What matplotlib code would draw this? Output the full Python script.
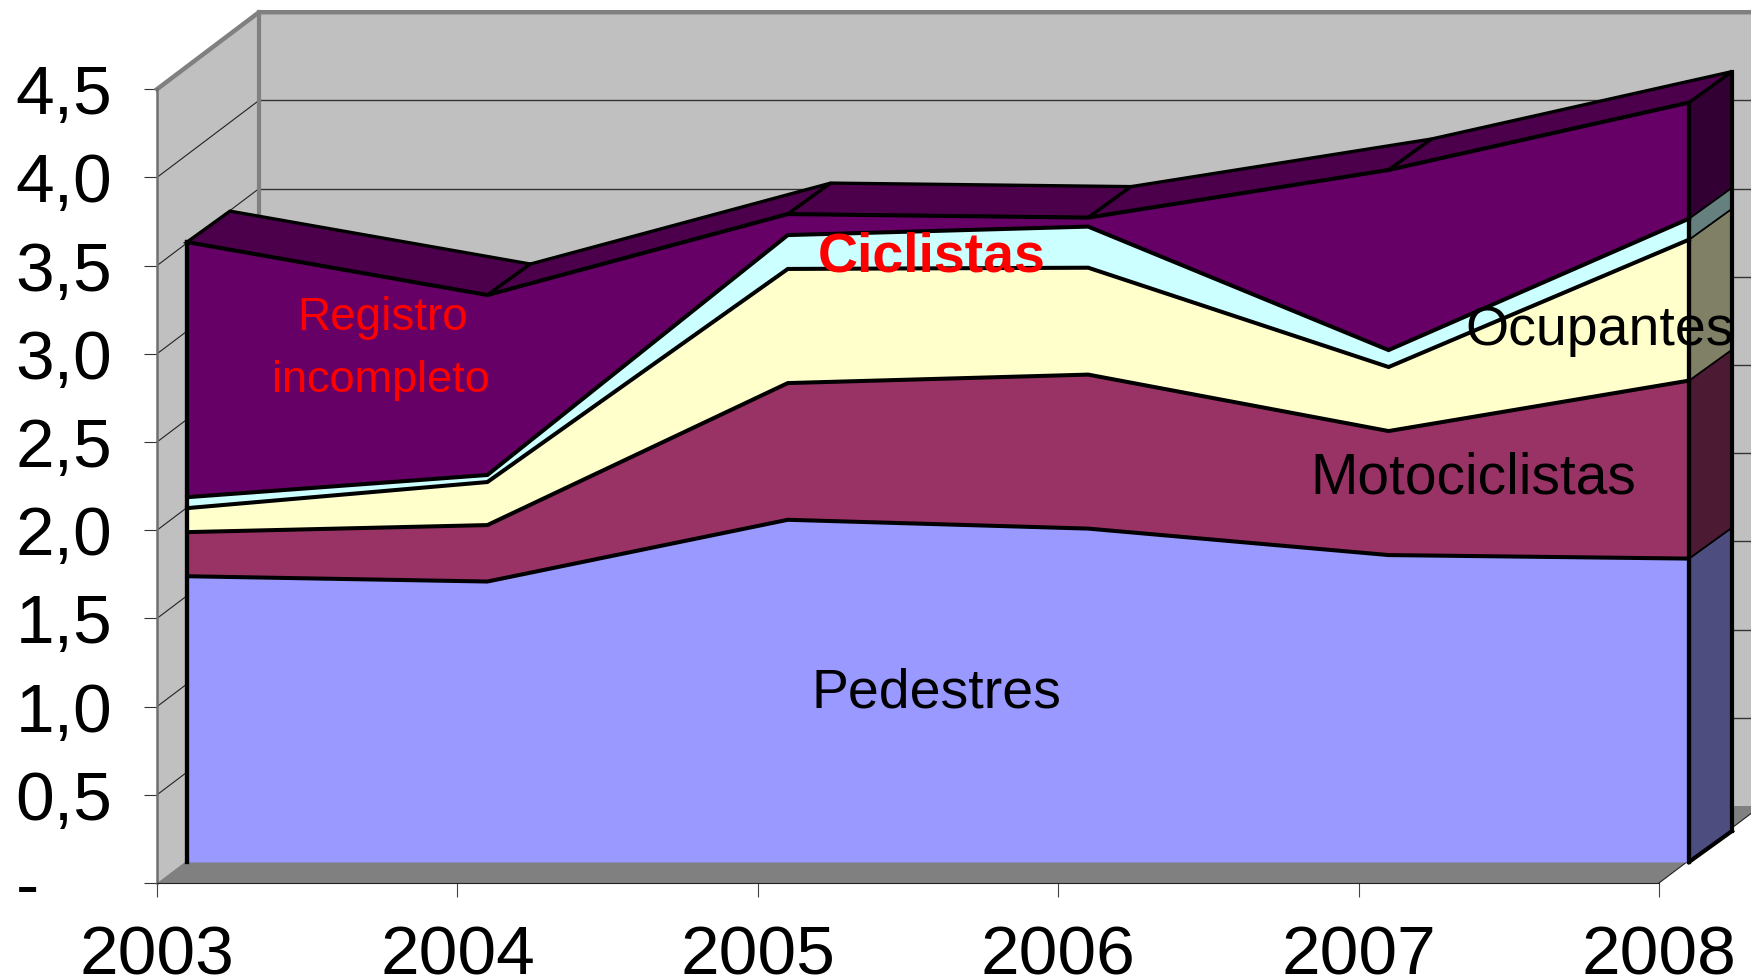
import numpy as np
import matplotlib
matplotlib.use('Agg')
import matplotlib.pyplot as plt

plt.rcParams['font.family'] = ['Liberation Sans', 'DejaVu Sans']

years = [2003, 2004, 2005, 2006, 2007, 2008]
y_ticks = [0, 0.5, 1, 1.5, 2, 2.5, 3, 3.5, 4, 4.5]
y_labels = ['-', '0,5', '1,0', '1,5', '2,0', '2,5', '3,0', '3,5', '4,0', '4,5']

pedestres = [1.62, 1.59, 1.94, 1.89, 1.74, 1.72]
motociclistas = [0.25, 0.32, 0.775, 0.873, 0.703, 1.009]
ocupantes = [0.136, 0.244, 0.647, 0.606, 0.363, 0.799]
ciclistas = [0.062, 0.04, 0.192, 0.233, 0.096, 0.119]
registro = [1.446, 1.02, 0.119, 0.051, 1.021, 0.658]

series = [pedestres, motociclistas, ocupantes, ciclistas, registro]
front_colors = ['#9999FF', '#993366', '#FFFFCC', '#CCFFFF', '#660066']
side_colors = ['#4D4D80', '#4D1A33', '#808066', '#668080', '#330033']
top_color = '#4C004C'

W, H = 1751, 977
PX_YEAR = 300.4
PX_UNIT = 176.4

fig = plt.figure(figsize=(W / 100, H / 100), dpi=100)
ax = fig.add_axes([157 / W, (H - 883) / H, (W - 157) / W, 883 / H])
ax.set_xlim(2003, 2003 + (W - 157) / PX_YEAR)
ax.set_ylim(0, 883 / PX_UNIT)
ax.patch.set_visible(False)

# the fake 3D depth is a shift in pixels, turned into data units here
def shift(x, y, depth):
    return np.asarray(x, dtype=float) + depth[0] / PX_YEAR, np.asarray(y, dtype=float) + depth[1] / PX_UNIT

FRONT = (30, 21)
BACK = (73, 52)
WALL = (102, 77)

# walls and floor
x0, x1 = years[0], years[-1]
ymax = y_ticks[-1]
wx, wy = shift([x0, x1, x1, x0], [0, 0, ymax, ymax], WALL)
ax.fill(wx, wy, color='#C0C0C0', lw=0, zorder=1)
lx0, ly0 = shift(x0, 0, WALL)
lx1, ly1 = shift(x0, ymax, WALL)
rx0, ry0 = shift(x1, 0, WALL)
rx1, ry1 = shift(x1, ymax, WALL)
ax.fill([x0, lx0, lx1, x0], [0, ly0, ly1, ymax], color='#C0C0C0', lw=0, zorder=1, clip_on=False)
ax.fill([x0, x1, rx0, lx0], [0, 0, ry0, ly0], color='#808080', lw=0, zorder=1.5)

for t in y_ticks[1:-1]:
    gx, gy = shift(x0, t, WALL)
    ex, ey = shift(x1, t, WALL)
    ax.plot([x0, gx], [t, gy], color='#222222', lw=0.8, zorder=2)
    ax.plot([gx, ex], [gy, ey], color='#333333', lw=1.0, zorder=2)

ax.plot([x0, lx1, rx1], [ymax, ly1, ry1], color='#808080', lw=3.2, zorder=2.5, clip_on=False, solid_joinstyle='miter')
ax.plot([lx0, lx1], [ly0, ly1], color='#808080', lw=3, zorder=2.5)
ax.plot([x1, rx0], [0, ry0], color='#222222', lw=0.8, zorder=2)

# stacked area
stack = np.cumsum(series, axis=0)
bottoms = np.vstack([np.zeros(len(years)), stack[:-1]])

# right side faces
for lo, hi, c in zip(bottoms, stack, side_colors):
    fx, fl = shift(x1, lo[-1], FRONT)
    fx, fh = shift(x1, hi[-1], FRONT)
    bx, bl = shift(x1, lo[-1], BACK)
    bx, bh = shift(x1, hi[-1], BACK)
    ax.fill([fx, bx, bx, fx], [fl, bl, bh, fh], facecolor=c, edgecolor='black', lw=1.2, zorder=3)

# top faces
top = stack[-1]
fxs, fys = shift(years, top, FRONT)
bxs, bys = shift(years, top, BACK)
for i in range(len(years) - 1):
    ax.fill([fxs[i], fxs[i + 1], bxs[i + 1], bxs[i]], [fys[i], fys[i + 1], bys[i + 1], bys[i]],
            facecolor=top_color, edgecolor='black', lw=2.4, zorder=3, joinstyle='miter')

# black edges of the box
bx, b0 = shift(x1, 0, BACK)
fx, f0 = shift(x1, 0, FRONT)
ax.plot([bx, bx], [b0, bys[-1]], color='black', lw=3, zorder=3.5)
ax.plot([fx, bx], [f0, b0], color='black', lw=3, zorder=3.5)

# front faces
for lo, hi, c in zip(bottoms, stack, front_colors):
    xs, ylo = shift(years, lo, FRONT)
    xs, yhi = shift(years, hi, FRONT)
    ax.fill_between(xs, ylo, yhi, color=c, lw=0, zorder=4)
for hi in stack:
    xs, yhi = shift(years, hi, FRONT)
    ax.plot(xs, yhi, color='black', lw=2.9, zorder=5, solid_joinstyle='miter')
for yr in (x0, x1):
    ex, e0 = shift(yr, 0, FRONT)
    ex, e1 = shift(yr, top[years.index(yr)], FRONT)
    ax.plot([ex, ex], [e0, e1], color='black', lw=3.1, zorder=5.5)

# axes
for s in ('top', 'right'):
    ax.spines[s].set_visible(False)
ax.spines['left'].set_bounds(0, ymax)
ax.spines['left'].set_color('#707070')
ax.spines['left'].set_linewidth(1.8)
ax.spines['bottom'].set_bounds(x0, x1)
ax.spines['bottom'].set_color('#222222')
ax.spines['bottom'].set_linewidth(0.8)
ax.set_xticks(years)
ax.set_xticklabels([str(y) for y in years])
ax.set_yticks(y_ticks)
ax.set_yticklabels(y_labels)
ax.tick_params(axis='x', length=10, width=0.8, color='#444444', labelsize=50, pad=20)
ax.tick_params(axis='y', length=9.4, width=0.8, color='#333333', labelsize=50, pad=92.5)
for lbl in ax.get_yticklabels():
    lbl.set_ha('left')

# labels inside the areas
ax.text(2005.594, 1.075, 'Pedestres', fontsize=40, ha='center', va='center', zorder=6)
ax.text(2007.381, 2.293, 'Motociclistas', fontsize=41, ha='center', va='center', zorder=6)
ax.text(2007.804, 3.132, 'Ocupantes', fontsize=40, ha='center', va='center', zorder=6)
ax.text(2003.752, 3.205, 'Registro', fontsize=33, color='#FF0000', ha='center', va='center', zorder=6)
ax.text(2003.746, 2.848, 'incompleto', fontsize=32.5, color='#FF0000', ha='center', va='center', zorder=6)
ax.text(2005.580, 3.545, 'Ciclistas', fontsize=40, color='#FF0000', fontweight='bold', ha='center', va='center', zorder=6)

fig.savefig('out.png', dpi=100)
